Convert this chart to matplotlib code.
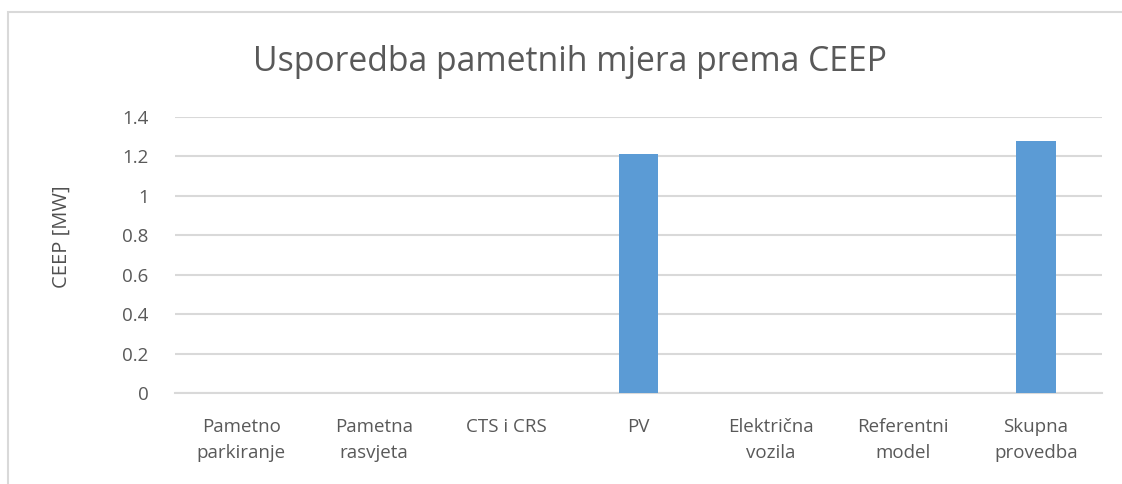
import matplotlib.pyplot as plt
from matplotlib.patches import Rectangle

# ---------- DATA ----------
categories = ["Pametno\nparkiranje", "Pametna\nrasvjeta", "CTS i CRS", "PV",
              "Električna\nvozila", "Referentni\nmodel", "Skupna\nprovedba"]
ceep_mw = [0, 0, 0, 1.21, 0, 0, 1.28]
y_ticks = [0, 0.2, 0.4, 0.6, 0.8, 1.0, 1.2, 1.4]
y_tick_labels = ["0", "0.2", "0.4", "0.6", "0.8", "1", "1.2", "1.4"]

TEXT_COL = "#595959"
GRID_COL = "#d9d9d9"
BAR_COL = "#5b9bd5"

plt.rcParams["font.family"] = ["Open Sans", "DejaVu Sans"]

fig = plt.figure(figsize=(11.22, 4.84), dpi=100)
W, H = 1122, 484

# chart frame (only left/top edges visible in the crop)
fig.patches.append(Rectangle((8 / W, -0.1), 1.2, 1 - 12 / H + 0.1,
                             transform=fig.transFigure, fill=False,
                             edgecolor=GRID_COL, linewidth=1.5))

ax = fig.add_axes([175 / W, 1 - 393 / H, (1102 - 175) / W, (393 - 117) / H])

x = range(len(categories))
ax.bar(x, ceep_mw, width=0.3, color=BAR_COL, zorder=3)

ax.set_xlim(-0.5, len(categories) - 0.5)
ax.set_ylim(0, 1.4)
ax.set_yticks(y_ticks)
ax.set_yticklabels(y_tick_labels)
ax.set_xticks(list(x))
ax.set_xticklabels(categories, linespacing=1.55)

ax.grid(axis="y", color=GRID_COL, linewidth=1.5, zorder=0)
for s in ["top", "right", "left"]:
    ax.spines[s].set_visible(False)
ax.spines["bottom"].set_color(GRID_COL)
ax.spines["bottom"].set_linewidth(1.5)
ax.tick_params(axis="both", length=0, colors=TEXT_COL, labelsize=13.5)
ax.tick_params(axis="y", pad=19)
ax.tick_params(axis="x", pad=18)

fig.text(62 / W, 1 - 237 / H, "CEEP [MW]", rotation=90, ha="center",
         va="center", color="#505050", fontsize=14.5)
fig.text(570 / W, 1 - 62 / H, "Usporedba pametnih mjera prema CEEP",
         ha="center", va="center", fontsize=24.3, color=TEXT_COL)

fig.savefig("out.png", dpi=100)
